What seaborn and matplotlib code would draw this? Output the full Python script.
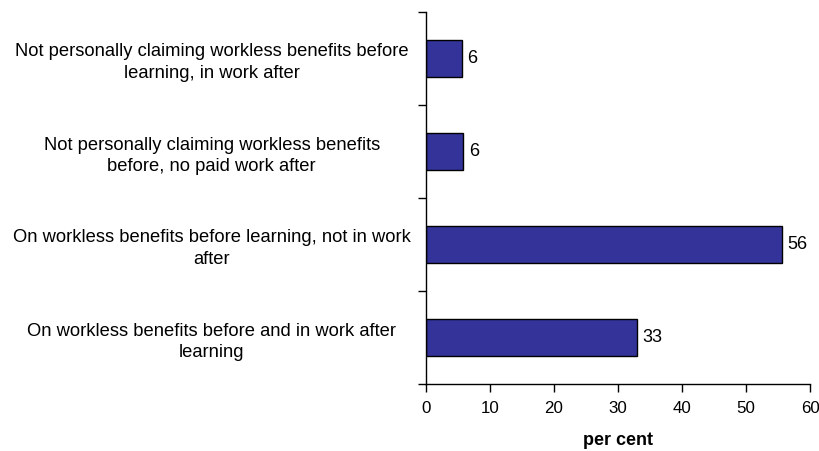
import seaborn as sns
import matplotlib.pyplot as plt
import pandas as pd
import numpy as np

# categories top to bottom
categories = [
    "Not personally claiming workless benefits before\nlearning, in work after",
    "Not personally claiming workless benefits\nbefore, no paid work after",
    "On workless benefits before learning, not in work\nafter",
    "On workless benefits before and in work after\nlearning",
]
values = [5.6, 5.9, 55.6, 33.0]
bar_labels = ["6", "6", "56", "33"]
x_ticks = [0, 10, 20, 30, 40, 50, 60]

df = pd.DataFrame({"category": categories, "value": values})

sns.set_style("white")
plt.rcParams['font.family'] = ['Liberation Sans', 'DejaVu Sans']
plt.rcParams['text.color'] = 'black'
plt.rcParams['xtick.color'] = 'black'
plt.rcParams['ytick.color'] = 'black'
plt.rcParams['axes.labelcolor'] = 'black'

fig = plt.figure(figsize=(8.19, 4.51), dpi=100)
ax = fig.add_axes([425.7 / 819, 1 - 384 / 451, (810 - 425.7) / 819, (384 - 12) / 451])

sns.barplot(data=df, x="value", y="category", orient="h", color="#333399",
            saturation=1, width=0.4, edgecolor="black", linewidth=1, ax=ax)

for i, (v, lab) in enumerate(zip(values, bar_labels)):
    ax.text(v + 0.9, i, lab, va="center", ha="left", fontsize=13)

ax.set_xlim(0, 60)
ax.set_ylim(3.5, -0.5)
ax.set_xticks(x_ticks)
ax.set_xticklabels([str(t) for t in x_ticks], fontsize=12.2)
ax.set_yticks(range(len(categories)))
ax.set_yticklabels(categories, fontsize=13.2, ha="center", multialignment="center",
                   linespacing=1.35)
ax.tick_params(axis="y", which="major", length=0, pad=154)
ax.set_yticks(np.arange(-0.5, 4, 1), minor=True)
ax.tick_params(axis="y", which="minor", length=6, width=1, direction="out", left=True)
ax.tick_params(axis="x", length=5.5, width=1, direction="out", bottom=True, pad=7)
ax.set_xlabel("per cent", fontsize=13, fontweight="bold", labelpad=11)
ax.set_ylabel("")

sns.despine(ax=ax)
for s in ["left", "bottom"]:
    ax.spines[s].set_color("black")
    ax.spines[s].set_linewidth(1)

fig.savefig("out.png", dpi=100)
